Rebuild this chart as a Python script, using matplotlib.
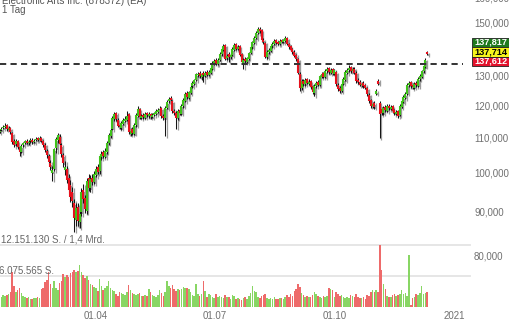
import matplotlib
matplotlib.use('Agg')
import matplotlib.pyplot as plt
import matplotlib.transforms as mtransforms
from matplotlib.patches import Rectangle
from matplotlib.ticker import NullLocator
import numpy as np
import pandas as pd

plt.rcParams['font.family'] = ['Liberation Sans', 'DejaVu Sans']

# daily candles, 17.01.2020 - 11.12.2020 (USD)
open_ = [111.6, 112.1, 112.7, 113.0, 113.6, 112.3, 112.8, 111.3, 108.9, 107.9,
         108.8, 107.0, 105.8, 107.6, 108.3, 108.9, 108.3, 108.8, 109.3, 108.5,
         109.1, 109.7, 109.2, 109.9, 108.8, 107.8, 106.0, 104.5, 102.5, 100.0,
         101.0, 106.8, 109.2, 110.2, 107.6, 104.8, 100.8, 101.0, 98.4, 96.8,
         95.0, 92.0, 88.0, 91.0, 87.5, 89.8, 95.4, 93.4, 90.2, 98.4,
         95.8, 98.6, 97.4, 99.4, 101.6, 100.5, 104.2, 105.6, 104.4, 105.7,
         108.2, 110.5, 112.6, 115.6, 117.4, 115.4, 113.8, 112.8, 114.0, 115.0,
         115.4, 117.0, 111.0, 112.4, 111.0, 113.6, 116.6, 118.6, 116.0, 116.8,
         116.0, 117.4, 116.6, 117.2, 116.2, 116.9, 117.2, 117.8, 118.4, 118.9,
         116.6, 115.8, 119.0, 121.2, 122.3, 121.2, 118.2, 117.6, 115.8, 118.4,
         117.2, 119.6, 121.4, 124.0, 122.4, 124.0, 126.2, 127.2, 128.5, 130.1,
         130.8, 129.6, 130.8, 129.8, 131.2, 130.2, 131.0, 132.4, 134.4, 135.4,
         134.0, 135.4, 137.6, 139.2, 141.0, 136.2, 137.6, 136.6, 137.4, 139.4,
         141.4, 139.6, 140.6, 137.8, 134.6, 135.9, 134.8, 136.0, 138.2, 140.3,
         142.0, 143.8, 145.9, 147.4, 146.8, 143.2, 142.0, 136.6, 138.4, 139.0,
         140.6, 141.5, 143.0, 142.2, 141.4, 143.0, 142.2, 142.8, 143.8, 141.6,
         140.6, 139.6, 138.6, 137.4, 135.8, 130.6, 125.8, 128.2, 127.0, 128.6,
         127.2, 128.0, 126.2, 124.0, 126.4, 127.8, 126.6, 129.6, 130.8, 129.4,
         131.4, 132.5, 131.0, 132.2, 130.6, 131.2, 126.8, 125.6, 124.6, 127.2,
         128.4, 131.0, 131.8, 133.0, 131.4, 132.4, 131.0, 128.4, 127.8, 126.6,
         127.4, 126.6, 125.6, 123.4, 121.6, 119.6, 120.6, 123.8, 128.2, 120.6,
         118.6, 117.4, 119.4, 118.2, 119.8, 118.8, 119.6, 118.4, 117.2, 118.0,
         116.8, 119.4, 121.0, 122.4, 123.8, 126.6, 127.6, 126.8, 125.8, 127.4,
         126.4, 128.6, 129.6, 131.4, 133.0, 138.4]

high = [112.5, 113.0, 113.7, 114.2, 113.9, 113.3, 113.1, 111.6, 109.4, 109.5,
        109.1, 107.4, 107.9, 108.7, 109.3, 109.4, 109.2, 109.8, 109.7, 109.5,
        110.2, 110.1, 110.3, 110.2, 109.2, 108.2, 106.6, 105.2, 103.4, 101.8,
        106.9, 110.0, 111.4, 110.9, 108.3, 105.4, 103.2, 101.8, 99.6, 97.9,
        96.2, 93.0, 92.2, 92.0, 90.6, 95.8, 97.0, 94.0, 98.6, 99.5,
        99.2, 99.6, 100.3, 101.8, 102.3, 105.0, 105.9, 106.2, 106.8, 109.0,
        111.3, 112.8, 116.6, 117.8, 117.9, 115.9, 114.4, 114.8, 115.9, 116.5,
        118.0, 117.4, 112.8, 113.0, 114.3, 117.3, 119.6, 118.9, 117.2, 117.4,
        117.9, 117.9, 117.8, 117.6, 117.4, 117.9, 118.6, 119.2, 119.6, 119.3,
        117.1, 119.8, 121.6, 122.8, 122.9, 121.6, 118.8, 118.0, 118.7, 118.9,
        120.4, 122.3, 124.4, 124.6, 124.8, 126.6, 127.9, 128.9, 131.0, 131.3,
        131.4, 131.0, 131.4, 131.5, 131.8, 131.8, 133.1, 135.1, 136.0, 136.2,
        136.3, 138.4, 140.2, 141.6, 141.5, 137.9, 138.4, 138.2, 140.2, 141.9,
        141.9, 141.2, 141.0, 138.2, 136.2, 136.5, 136.8, 138.6, 141.0, 142.8,
        144.8, 146.6, 148.0, 148.2, 147.3, 143.8, 142.4, 139.2, 139.9, 141.3,
        142.2, 143.4, 143.6, 142.8, 143.4, 143.6, 143.6, 144.6, 144.2, 142.1,
        141.1, 140.0, 139.1, 137.9, 136.3, 131.2, 128.9, 128.8, 129.0, 129.2,
        128.6, 128.4, 126.7, 127.0, 128.2, 128.3, 130.3, 131.3, 131.3, 132.2,
        132.9, 133.0, 132.6, 132.8, 132.4, 131.6, 127.3, 126.2, 127.6, 129.3,
        131.8, 132.7, 133.6, 133.5, 132.9, 132.9, 131.4, 129.0, 128.3, 127.8,
        127.9, 127.1, 126.0, 123.9, 122.1, 121.0, 121.2, 125.3, 128.9, 121.2,
        119.4, 119.8, 120.0, 120.3, 120.3, 120.0, 120.0, 118.8, 118.5, 118.4,
        120.2, 121.8, 123.2, 124.3, 127.4, 128.2, 128.1, 127.4, 127.8, 128.0,
        129.3, 130.4, 132.1, 133.8, 136.1, 138.9]

low = [111.2, 111.8, 112.4, 112.7, 112.0, 111.9, 111.0, 108.1, 107.0, 107.5,
       106.6, 104.6, 105.4, 107.2, 107.9, 107.9, 107.8, 108.4, 108.1, 108.2,
       108.8, 108.9, 108.9, 108.5, 107.1, 105.8, 104.1, 102.2, 100.6, 97.8,
       100.4, 105.5, 108.4, 107.4, 104.4, 101.6, 99.4, 97.2, 94.6, 92.4,
       91.2, 85.2, 86.6, 86.5, 86.0, 89.0, 92.2, 89.6, 89.5, 95.2,
       95.0, 96.8, 96.9, 98.8, 99.6, 99.6, 103.5, 103.9, 103.9, 105.2,
       107.8, 109.9, 112.2, 115.0, 115.0, 113.0, 112.4, 112.3, 113.6, 114.6,
       115.0, 111.0, 110.5, 110.6, 110.8, 113.2, 116.2, 115.7, 115.5, 115.6,
       115.6, 116.2, 116.0, 115.6, 115.8, 116.4, 116.8, 117.4, 117.9, 116.0,
       115.2, 110.4, 118.6, 120.8, 121.0, 117.6, 116.8, 112.6, 115.3, 116.9,
       116.9, 119.2, 121.0, 122.0, 122.0, 123.6, 125.7, 126.7, 128.0, 129.6,
       129.2, 128.4, 127.6, 129.3, 129.8, 129.8, 130.6, 132.0, 133.8, 133.6,
       133.6, 135.0, 137.2, 138.8, 135.4, 135.6, 134.8, 136.0, 137.0, 139.0,
       139.2, 139.1, 137.0, 134.2, 132.4, 134.4, 134.3, 135.6, 137.8, 139.8,
       141.6, 143.4, 145.4, 145.8, 142.4, 141.6, 136.2, 136.0, 137.8, 138.6,
       140.1, 141.0, 141.4, 141.0, 141.0, 141.9, 141.8, 142.4, 141.0, 139.8,
       138.8, 137.9, 136.6, 135.2, 130.4, 124.6, 125.0, 126.3, 126.5, 126.9,
       126.6, 125.4, 123.6, 122.9, 125.8, 126.2, 126.2, 129.0, 129.0, 129.0,
       130.8, 130.6, 130.5, 130.2, 130.1, 126.4, 124.8, 124.1, 124.2, 126.8,
       128.0, 130.5, 131.3, 131.0, 130.9, 130.4, 127.4, 127.0, 126.2, 126.1,
       125.8, 125.2, 123.0, 120.8, 119.2, 119.1, 118.8, 123.4, 126.8, 109.8,
       116.8, 116.9, 117.9, 117.8, 118.4, 118.3, 117.6, 116.8, 116.8, 116.0,
       116.4, 119.0, 120.6, 122.0, 123.4, 125.9, 125.8, 125.3, 125.4, 126.0,
       126.0, 128.2, 129.2, 131.0, 132.7, 137.3]

close = [112.0, 112.6, 113.2, 113.5, 112.4, 112.9, 111.5, 108.6, 107.8, 108.9,
         107.2, 105.6, 107.4, 108.2, 108.9, 108.4, 108.7, 109.2, 108.6, 109.0,
         109.6, 109.3, 109.8, 108.9, 107.6, 106.4, 104.8, 102.8, 101.5, 100.6,
         106.5, 109.5, 110.8, 108.0, 105.0, 102.5, 101.5, 98.0, 95.5, 93.5,
         92.5, 88.5, 90.8, 87.8, 89.5, 95.0, 93.0, 90.5, 97.8, 96.0,
         98.2, 97.6, 99.6, 101.0, 100.2, 104.5, 105.2, 104.6, 106.0, 108.4,
         110.8, 112.2, 116.0, 117.0, 115.6, 113.5, 113.0, 114.2, 115.2, 115.6,
         116.6, 111.5, 112.0, 111.2, 113.8, 116.8, 118.8, 116.2, 116.6, 116.2,
         117.2, 116.8, 117.0, 116.4, 116.8, 117.3, 118.0, 118.5, 118.8, 116.4,
         115.9, 119.2, 121.0, 122.0, 121.5, 118.0, 117.4, 116.0, 118.2, 117.5,
         119.8, 121.8, 123.8, 122.6, 124.2, 126.0, 127.3, 128.3, 130.4, 130.6,
         129.8, 130.5, 130.0, 130.9, 130.3, 131.2, 132.6, 134.6, 135.2, 134.2,
         135.6, 137.8, 139.5, 140.8, 136.0, 137.2, 136.8, 137.5, 139.6, 141.2,
         139.8, 140.5, 137.5, 134.8, 135.6, 135.0, 136.2, 138.0, 140.5, 142.2,
         144.0, 146.0, 147.2, 146.5, 143.0, 142.2, 136.8, 138.6, 139.2, 140.8,
         141.6, 142.8, 142.0, 141.6, 142.8, 142.4, 143.0, 143.8, 141.6, 140.4,
         139.4, 138.5, 137.2, 135.8, 131.0, 125.8, 128.0, 127.0, 128.3, 127.5,
         127.8, 126.0, 124.2, 126.5, 127.5, 126.8, 129.8, 130.6, 129.6, 131.6,
         132.3, 131.2, 132.0, 130.8, 131.8, 127.0, 125.4, 124.8, 127.0, 128.6,
         131.2, 132.0, 132.8, 131.6, 132.2, 131.0, 128.0, 127.6, 126.8, 127.2,
         126.4, 125.8, 123.6, 121.4, 119.8, 120.4, 119.4, 124.6, 127.2, 117.0,
         117.6, 119.2, 118.4, 119.6, 119.0, 119.4, 118.2, 117.4, 117.8, 116.6,
         119.6, 121.2, 122.6, 123.6, 126.8, 127.4, 126.4, 126.0, 127.2, 126.6,
         128.8, 129.8, 131.6, 133.2, 135.6, 137.7]

# volume in million shares
volume = [2.2, 2.0, 2.4, 2.1, 2.3, 2.6, 3.0, 6.8, 4.2, 3.0,
          3.4, 3.8, 2.8, 2.2, 1.9, 1.8, 2.0, 1.6, 1.5, 1.7,
          1.8, 1.9, 1.7, 3.6, 3.8, 4.9, 5.2, 6.9, 4.6, 3.7,
          5.0, 3.8, 3.4, 4.8, 5.1, 6.4, 5.8, 6.2, 5.9, 6.6,
          6.8, 7.2, 6.9, 7.0, 8.2, 6.9, 6.2, 5.6, 6.1, 5.2,
          4.6, 4.3, 3.9, 3.7, 3.2, 5.5, 4.2, 3.4, 3.7, 4.1,
          5.1, 3.8, 3.4, 3.2, 2.6, 2.2, 3.0, 2.8, 2.5, 2.4,
          3.0, 4.4, 3.4, 2.7, 2.6, 2.3, 2.5, 2.8, 2.2, 2.1,
          2.3, 2.1, 3.5, 2.9, 2.4, 2.2, 2.0, 2.3, 3.3, 2.8,
          2.1, 3.0, 5.0, 4.1, 3.8, 4.4, 3.6, 3.2, 3.5, 3.3,
          3.6, 4.0, 3.7, 3.8, 3.5, 3.0, 2.4, 2.2, 4.6, 2.6,
          2.2, 2.5, 5.1, 3.2, 2.0, 2.6, 2.3, 2.0, 1.8, 2.6,
          1.9, 2.2, 2.0, 1.8, 2.4, 2.0, 1.9, 1.6, 2.3, 2.1,
          1.5, 1.8, 1.6, 1.4, 1.7, 1.9, 1.6, 2.2, 2.8, 4.2,
          3.2, 3.0, 2.0, 1.8, 2.1, 2.4, 2.6, 1.8, 1.5, 1.7,
          1.6, 1.9, 1.5, 1.6, 1.7, 1.8, 1.6, 2.0, 2.4, 1.9,
          2.5, 2.2, 3.1, 3.6, 4.6, 4.0, 2.8, 2.4, 2.0, 2.2,
          1.9, 2.0, 2.3, 3.0, 2.5, 2.1, 2.0, 1.8, 2.2, 2.0,
          2.2, 3.8, 3.6, 3.4, 2.0, 3.0, 2.5, 2.2, 2.4, 1.9,
          1.8, 2.0, 1.7, 2.3, 2.2, 1.9, 2.6, 2.0, 1.8, 1.7,
          2.0, 1.6, 2.4, 2.2, 3.0, 3.3, 2.9, 3.4, 3.0, 12.15,
          7.2, 4.6, 3.5, 2.2, 2.0, 1.9, 2.4, 2.6, 2.1, 2.3,
          2.5, 3.3, 2.6, 2.7, 2.2, 10.2, 0.3, 1.8, 2.0, 2.5,
          2.4, 2.7, 4.2, 2.6, 2.8, 3.0]

# 140,000 sits under the quote boxes in the original, so it is not labelled
price_ticks = [80, 90, 100, 110, 120, 130, 150]
tick_dates = ['2020-04-01', '2020-07-01', '2020-10-01', '2021-01-01']
tick_labels = ['01.04', '01.07', '01.10', '2021']
ref_level = 134.0
quote_labels = ['137,817', '137,714', '137,612']
vol_max = 12.151130   # million
vol_text_top = '12.151.130 S. / 1,4 Mrd.'
vol_text_mid = '6.075.565 S.'

o = np.array(open_)
h = np.array(high)
l = np.array(low)
c = np.array(close)
v = np.array(volume)
x = np.arange(len(c))
start = '2020-01-17'

W, H = 510, 320
fig = plt.figure(figsize=(W / 100, H / 100), dpi=100)
fig.patch.set_facecolor('white')


def y_price(ypx):
    # log price scale: 150 at 22.5 px from top, 370 px per unit of ln
    return 150 * np.exp(-(ypx - 22.5) / 370)


ax = fig.add_axes([0, 13 / H, 463 / W, 307 / H], zorder=2)
ax.set_facecolor('none')
ax.set_yscale('log')
ax.set_ylim(y_price(307), y_price(0))
ax.set_xlim(0.27, 254.7)

up = c >= o
body_col = np.where(up, '#3fc21a', '#e6101c')
body_lo = np.minimum(o, c)
body_hi = np.maximum(np.maximum(o, c), body_lo + 0.25)

shadow = mtransforms.offset_copy(ax.transData, fig=fig, x=1.6, y=-1.6, units='dots')
ax.vlines(x, l, h, colors='#9c9c9c', lw=0.9, transform=shadow, zorder=1)
ax.vlines(x, body_lo, body_hi, colors='#9c9c9c', lw=1.5, transform=shadow, zorder=1)
ax.vlines(x, l, h, colors='#151515', lw=0.75, zorder=2)
ax.vlines(x, body_lo, body_hi, colors=body_col, lw=1.5, zorder=3)

ax.axhline(ref_level, color='#333333', lw=1.4, linestyle=(0, (3.2, 2.2)), zorder=4)

ax.yaxis.tick_right()
ax.set_yticks(price_ticks)
ax.set_yticklabels([f'{p:.3f}'.replace('.', ',') for p in price_ticks])
ax.yaxis.set_minor_locator(NullLocator())
ax.tick_params(axis='y', length=0, pad=8, labelsize=7, labelcolor='#707070')

pos = [int(np.busday_count(start, d)) for d in tick_dates]
ax.set_xticks(pos)
ax.set_xticklabels(tick_labels)
ax.tick_params(axis='x', length=0, pad=2.6, labelsize=7, labelcolor='#707070')
for s in ax.spines.values():
    s.set_visible(False)

# volume panel
axv = fig.add_axes([0, 13 / H, 463 / W, 62 / H], zorder=1)
axv.set_facecolor('none')
vol_col = np.where(up, '#88d664', '#ee6a6a')
axv.bar(x, v, width=0.85, color=vol_col, zorder=2)
axv.set_ylim(0, vol_max)
axv.set_xlim(0.27, 254.7)
axv.axis('off')
for yy in (1.0, 0.5):
    axv.plot([0, 470 / 463], [yy, yy], transform=axv.transAxes, color='#e4e4e4',
             lw=1.3, clip_on=False, zorder=0)

fig.text(1 / W, 1 - 242 / H, vol_text_top, fontsize=7, color='#666666', va='baseline')
fig.text(-1 / W, 1 - 274 / H, vol_text_mid, fontsize=7, color='#666666', va='baseline')

# header
fig.text(2 / W, 1 - 4 / H, 'Electronic Arts Inc. (878372) (EA)', fontsize=7,
         color='#555555', va='baseline')
fig.text(2 / W, 1 - 13 / H, '1 Tag', fontsize=7, color='#555555', va='baseline')
fig.text(474 / W, 1 + 1.4 / H, '160,000', fontsize=7, color='#707070', va='center')

# quote boxes
boxes = [(37.7, 47.2, '#1e7a1e', 'white'),
         (47.2, 56.7, '#f5f51c', 'black'),
         (56.7, 66.0, '#e3122d', 'white')]
for (y0, y1, fc, tc), lab in zip(boxes, quote_labels):
    fig.add_artist(Rectangle((472 / W, 1 - y1 / H), 40 / W, (y1 - y0) / H,
                             transform=fig.transFigure, facecolor=fc,
                             edgecolor='#222222', lw=0.6, zorder=5))
    fig.text(474 / W, 1 - (y0 + y1) / 2 / H, lab, fontsize=6.6, color=tc,
             fontweight='bold', va='center', zorder=6)

fig.savefig('out.png', dpi=100, facecolor='white')
